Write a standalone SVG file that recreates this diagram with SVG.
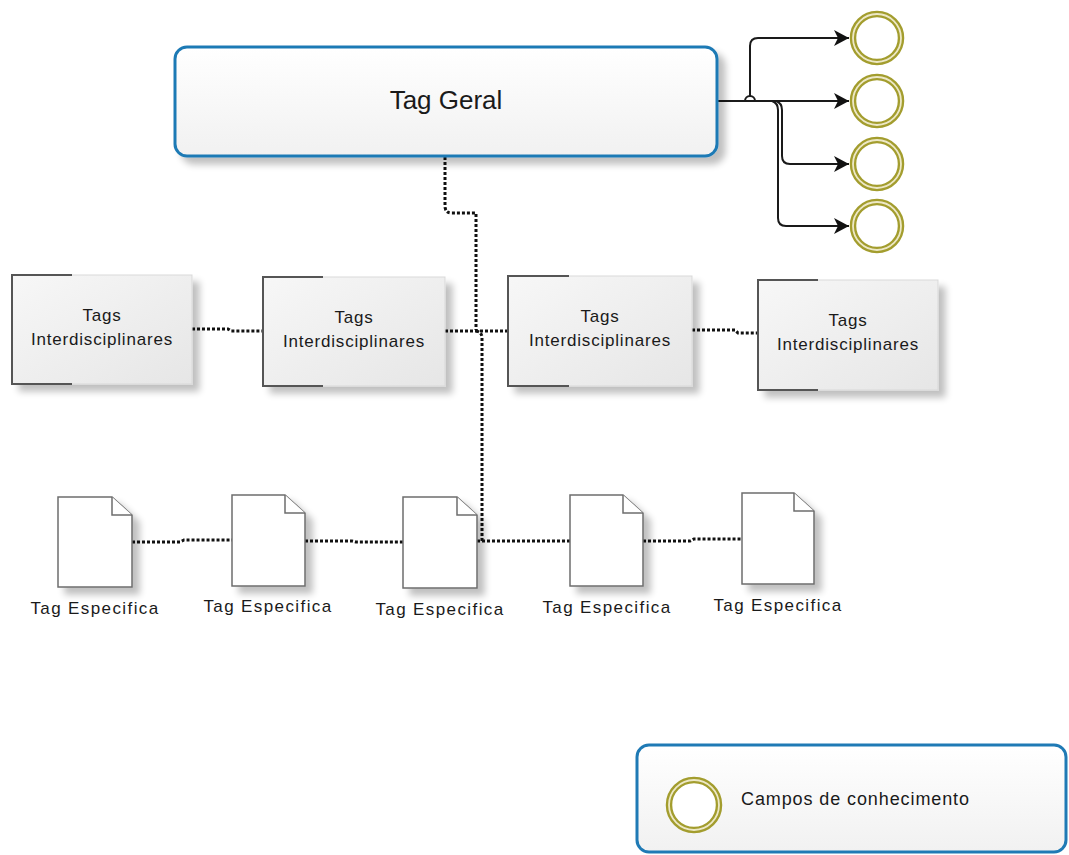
<svg xmlns="http://www.w3.org/2000/svg" width="1069" height="855" viewBox="0 0 1069 855">
<defs>
<style>
.lbl{font-family:"Liberation Sans",Arial,sans-serif;fill:#1a1a1a;text-anchor:middle}
.tg{font-size:17px;letter-spacing:0.8px}
.te{font-size:17px;letter-spacing:1.4px}
.dot{fill:none;stroke:#111;stroke-width:3;stroke-dasharray:3 2}
.arr{fill:none;stroke:#1a1a1a;stroke-width:2}
.doc{fill:#fff;stroke:#6e6e6e;stroke-width:1.5}
.ring{fill:#fff;stroke:#a39d2e;stroke-width:6.5}
.ringin{fill:none;stroke:#ede8c6;stroke-width:1.8}
.blue{stroke:#1f7ab5;stroke-width:3}
</style>
<linearGradient id="gW" x1="0" y1="0" x2="0" y2="1"><stop offset="0" stop-color="#ffffff"/><stop offset="1" stop-color="#f1f1f1"/></linearGradient>
<linearGradient id="gG" x1="0" y1="0" x2="1" y2="1"><stop offset="0" stop-color="#f7f7f7"/><stop offset="1" stop-color="#e6e6e6"/></linearGradient>
<filter id="sh" x="-10%" y="-10%" width="130%" height="140%"><feGaussianBlur in="SourceAlpha" stdDeviation="3.5"/><feOffset dx="7" dy="7" result="b"/><feComponentTransfer><feFuncA type="linear" slope="0.25"/></feComponentTransfer><feMerge><feMergeNode/><feMergeNode in="SourceGraphic"/></feMerge></filter>
<marker id="ah" markerWidth="18" markerHeight="18" refX="15" refY="8" orient="auto" markerUnits="userSpaceOnUse"><path d="M0,0 L15,8 L0,16 L4,8 Z" fill="#111"/></marker>
</defs>
<rect width="1069" height="855" fill="#fff"/>

<g id="connectors">
<path class="dot" d="M445,157 V206 Q445,213 452,213 H476 V330"/>
<path class="dot" d="M476,331 Q482,332 482,338 V541"/>
<path class="dot" d="M192,329 H228 L231,331 H263"/>
<path class="dot" d="M445,331 H508"/>
<path class="dot" d="M692,330 H735 L738,333 H758"/>
<path class="dot" d="M132,542 H180 L184,540 H232"/>
<path class="dot" d="M305,541 H352 L356,542 H403"/>
<path class="dot" d="M477,541 H570"/>
<path class="dot" d="M643,541 H690 L694,539 H742"/>
<path class="arr" d="M717,101 H849" marker-end="url(#ah)"/>
<path class="arr" d="M750,96 V46 Q750,38 758,38 H849" marker-end="url(#ah)"/>
<path class="arr" d="M745,101 A5,5 0 0 1 755,101"/>
<path class="arr" d="M776,101 Q782,103 782,110 V156 Q782,164 790,164 H849" marker-end="url(#ah)"/>
<path class="arr" d="M772,101 Q778,103 778,110 V218 Q778,226 786,226 H849" marker-end="url(#ah)"/>
</g>

<g id="tag-geral">
<rect x="175" y="47" width="542" height="109" rx="12" fill="url(#gW)" class="blue" filter="url(#sh)"/>
<text class="lbl" x="446" y="109" style="font-size:26px">Tag Geral</text>
</g>

<g id="campo-1"><circle class="ring" cx="877" cy="38" r="24"/><circle class="ringin" cx="877" cy="38" r="24"/></g>
<g id="campo-2"><circle class="ring" cx="877" cy="101" r="24"/><circle class="ringin" cx="877" cy="101" r="24"/></g>
<g id="campo-3"><circle class="ring" cx="877" cy="164" r="24"/><circle class="ringin" cx="877" cy="164" r="24"/></g>
<g id="campo-4"><circle class="ring" cx="877" cy="226" r="24"/><circle class="ringin" cx="877" cy="226" r="24"/></g>

<g id="tags-1">
<rect x="12" y="275" width="180" height="109" fill="url(#gG)" stroke="#d9d9d9" filter="url(#sh)"/>
<path d="M72,275 H12 V384 H72" fill="none" stroke="#555" stroke-width="2"/>
<text class="lbl tg" x="102" y="321">Tags</text>
<text class="lbl tg" x="102" y="345">Interdisciplinares</text>
</g>
<g id="tags-2">
<rect x="263" y="277" width="182" height="109" fill="url(#gG)" stroke="#d9d9d9" filter="url(#sh)"/>
<path d="M323,277 H263 V386 H323" fill="none" stroke="#555" stroke-width="2"/>
<text class="lbl tg" x="354" y="323">Tags</text>
<text class="lbl tg" x="354" y="347">Interdisciplinares</text>
</g>
<g id="tags-3">
<rect x="508" y="276" width="184" height="110" fill="url(#gG)" stroke="#d9d9d9" filter="url(#sh)"/>
<path d="M569,276 H508 V386 H569" fill="none" stroke="#555" stroke-width="2"/>
<text class="lbl tg" x="600" y="322">Tags</text>
<text class="lbl tg" x="600" y="346">Interdisciplinares</text>
</g>
<g id="tags-4">
<rect x="758" y="280" width="180" height="110" fill="url(#gG)" stroke="#d9d9d9" filter="url(#sh)"/>
<path d="M818,280 H758 V390 H818" fill="none" stroke="#555" stroke-width="2"/>
<text class="lbl tg" x="848" y="326">Tags</text>
<text class="lbl tg" x="848" y="350">Interdisciplinares</text>
</g>

<g id="doc-1">
<path class="doc" filter="url(#sh)" d="M58,497 H112 L132,515 V587 H58 Z"/>
<path class="doc" d="M112,497 V515 H132"/>
<text class="lbl te" x="95" y="614">Tag Especifica</text>
</g>
<g id="doc-2">
<path class="doc" filter="url(#sh)" d="M232,495 H285 L305,513 V586 H232 Z"/>
<path class="doc" d="M285,495 V513 H305"/>
<text class="lbl te" x="268" y="612">Tag Especifica</text>
</g>
<g id="doc-3">
<path class="doc" filter="url(#sh)" d="M403,497 H457 L477,515 V588 H403 Z"/>
<path class="doc" d="M457,497 V515 H477"/>
<text class="lbl te" x="440" y="615">Tag Especifica</text>
</g>
<g id="doc-4">
<path class="doc" filter="url(#sh)" d="M570,495 H623 L643,513 V586 H570 Z"/>
<path class="doc" d="M623,495 V513 H643"/>
<text class="lbl te" x="607" y="613">Tag Especifica</text>
</g>
<g id="doc-5">
<path class="doc" filter="url(#sh)" d="M742,493 H794 L814,511 V584 H742 Z"/>
<path class="doc" d="M794,493 V511 H814"/>
<text class="lbl te" x="778" y="611">Tag Especifica</text>
</g>

<g id="legend">
<rect x="637" y="745" width="429" height="107" rx="12" fill="url(#gW)" class="blue"/>
<circle class="ring" cx="694" cy="805" r="25"/><circle class="ringin" cx="694" cy="805" r="25"/>
<text x="741" y="805" style="font-family:'Liberation Sans',Arial,sans-serif;font-size:18px;letter-spacing:0.9px;fill:#1a1a1a">Campos de conhecimento</text>
</g>
</svg>
